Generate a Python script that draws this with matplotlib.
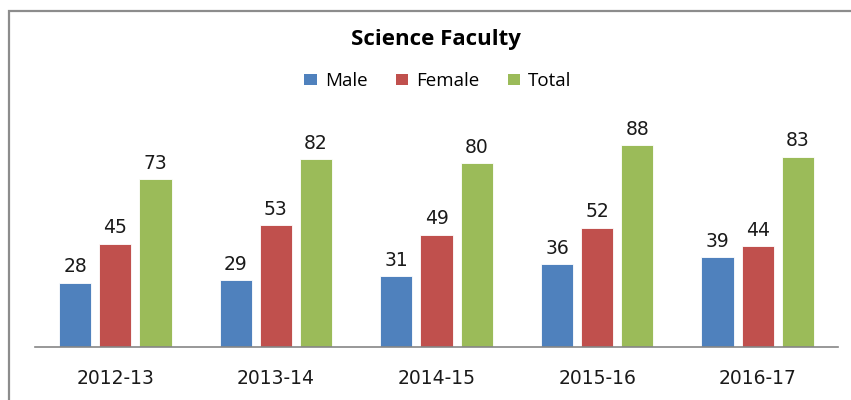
import matplotlib
matplotlib.use('Agg')
import matplotlib.pyplot as plt
import numpy as np
from matplotlib.patches import Rectangle, Patch

years = ['2012-13', '2013-14', '2014-15', '2015-16', '2016-17']
male = [28, 29, 31, 36, 39]
female = [45, 53, 49, 52, 44]
total = [73, 82, 80, 88, 83]

series_names = ['Male', 'Female', 'Total']
colors = ['#4F81BD', '#C0504D', '#9BBB59']

fig = plt.figure(figsize=(8.51, 4.0), dpi=100)
ax = fig.add_axes([35/851, 1-347/400, (838-35)/851, (347-117.5)/400])

x = np.arange(len(years))
w = 0.2
step = 0.25
for i, (vals, c) in enumerate(zip([male, female, total], colors)):
    pos = x + (i-1)*step
    ax.bar(pos, vals, width=w, color=c, edgecolor='white', linewidth=0.6)
    for p, v in zip(pos, vals):
        ax.annotate(str(v), (p, v), xytext=(0, 7.4), textcoords='offset points',
                    ha='center', va='baseline', fontsize=13.5,
                    family='DejaVu Sans', color='#1a1a1a')

ax.set_xlim(-0.5, len(years)-0.5)
ax.set_ylim(0, 100)
ax.set_yticks([])
ax.set_xticks(x)
ax.set_xticklabels(years, fontsize=13.5, family='DejaVu Sans', color='#1a1a1a')
ax.tick_params(axis='x', length=0, pad=15.5)
for s in ['top', 'left', 'right']:
    ax.spines[s].set_visible(False)
ax.spines['bottom'].set_color('#868686')
ax.spines['bottom'].set_linewidth(1.2)
ax.patch.set_visible(False)

fig.text(436/851, 1-39.5/400, 'Science Faculty', ha='center', va='center',
         fontsize=16, fontweight='bold', family='Open Sans', color='black')

handles = [Patch(facecolor=c, edgecolor='none') for c in colors]
fig.legend(handles, series_names, loc='center', bbox_to_anchor=(438/851, 1-81/400),
           ncol=3, frameon=False, prop={'family': 'Open Sans', 'size': 13.5},
           handlelength=0.65, handleheight=0.5, handletextpad=0.45,
           columnspacing=1.5)

# outer chart border (cut off on right and bottom like the reference)
fig.add_artist(Rectangle((9/851, -0.2), 1.2, 1-10.5/400+0.2, transform=fig.transFigure,
                         fill=False, edgecolor='#8c8c8c', linewidth=1.6))

fig.savefig('out.png', dpi=100)
